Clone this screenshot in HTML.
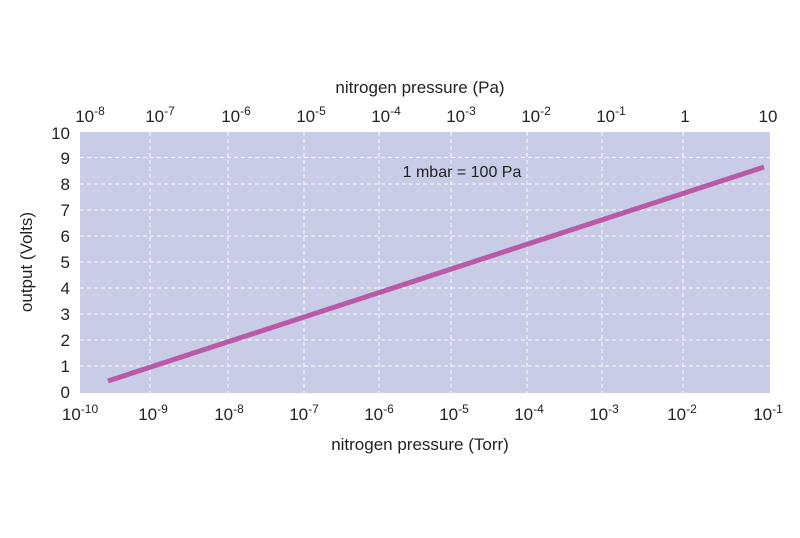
<!DOCTYPE html>
<html><head><style>
body{margin:0;background:#fff;}
svg text{font-family:"Liberation Sans",sans-serif;fill:#222;}
</style></head><body>
<svg width="800" height="533" viewBox="0 0 800 533" xmlns="http://www.w3.org/2000/svg">
<rect x="80" y="132" width="690" height="261" fill="#c9cce6"/>
<g stroke="#fff" stroke-width="1" stroke-dasharray="4,3" opacity="0.9">
<line x1="150" y1="132" x2="150" y2="393"/><line x1="228" y1="132" x2="228" y2="393"/>
<line x1="304" y1="132" x2="304" y2="393"/><line x1="379" y1="132" x2="379" y2="393"/>
<line x1="451" y1="132" x2="451" y2="393"/><line x1="527" y1="132" x2="527" y2="393"/>
<line x1="602" y1="132" x2="602" y2="393"/><line x1="683" y1="132" x2="683" y2="393"/>
<line x1="80" y1="157.5" x2="770" y2="157.5"/><line x1="80" y1="184" x2="770" y2="184"/>
<line x1="80" y1="210" x2="770" y2="210"/><line x1="80" y1="236" x2="770" y2="236"/>
<line x1="80" y1="262" x2="770" y2="262"/><line x1="80" y1="288" x2="770" y2="288"/>
<line x1="80" y1="314" x2="770" y2="314"/><line x1="80" y1="340" x2="770" y2="340"/>
<line x1="80" y1="366" x2="770" y2="366"/>
</g>
<line x1="108" y1="381" x2="764" y2="167" stroke="#b95aa6" stroke-width="5" stroke-linecap="butt"/>
<text x="462" y="177" font-size="16" text-anchor="middle">1 mbar = 100 Pa</text>
<g font-size="17" text-anchor="end">
<text x="70" y="139">10</text><text x="70" y="164">9</text><text x="70" y="190">8</text>
<text x="70" y="216">7</text><text x="70" y="242">6</text><text x="70" y="268">5</text>
<text x="70" y="294">4</text><text x="70" y="320">3</text><text x="70" y="346">2</text>
<text x="70" y="372">1</text><text x="70" y="398">0</text>
</g>
<text transform="translate(32,262) rotate(-90)" font-size="17" text-anchor="middle">output (Volts)</text>
<g font-size="17" text-anchor="middle">
<text x="80" y="420">10<tspan font-size="12" dy="-7">-10</tspan></text>
<text x="153" y="420">10<tspan font-size="12" dy="-7">-9</tspan></text>
<text x="229" y="420">10<tspan font-size="12" dy="-7">-8</tspan></text>
<text x="304" y="420">10<tspan font-size="12" dy="-7">-7</tspan></text>
<text x="379" y="420">10<tspan font-size="12" dy="-7">-6</tspan></text>
<text x="454" y="420">10<tspan font-size="12" dy="-7">-5</tspan></text>
<text x="529" y="420">10<tspan font-size="12" dy="-7">-4</tspan></text>
<text x="604" y="420">10<tspan font-size="12" dy="-7">-3</tspan></text>
<text x="682" y="420">10<tspan font-size="12" dy="-7">-2</tspan></text>
<text x="768" y="420">10<tspan font-size="12" dy="-7">-1</tspan></text>
<text x="420" y="450">nitrogen pressure (Torr)</text>
<text x="420" y="93">nitrogen pressure (Pa)</text>
<text x="90" y="122">10<tspan font-size="12" dy="-7">-8</tspan></text>
<text x="160" y="122">10<tspan font-size="12" dy="-7">-7</tspan></text>
<text x="236" y="122">10<tspan font-size="12" dy="-7">-6</tspan></text>
<text x="311" y="122">10<tspan font-size="12" dy="-7">-5</tspan></text>
<text x="386" y="122">10<tspan font-size="12" dy="-7">-4</tspan></text>
<text x="461" y="122">10<tspan font-size="12" dy="-7">-3</tspan></text>
<text x="536" y="122">10<tspan font-size="12" dy="-7">-2</tspan></text>
<text x="611" y="122">10<tspan font-size="12" dy="-7">-1</tspan></text>
<text x="685" y="122">1</text>
<text x="768" y="122">10</text>
</g>
</svg>
</body></html>
